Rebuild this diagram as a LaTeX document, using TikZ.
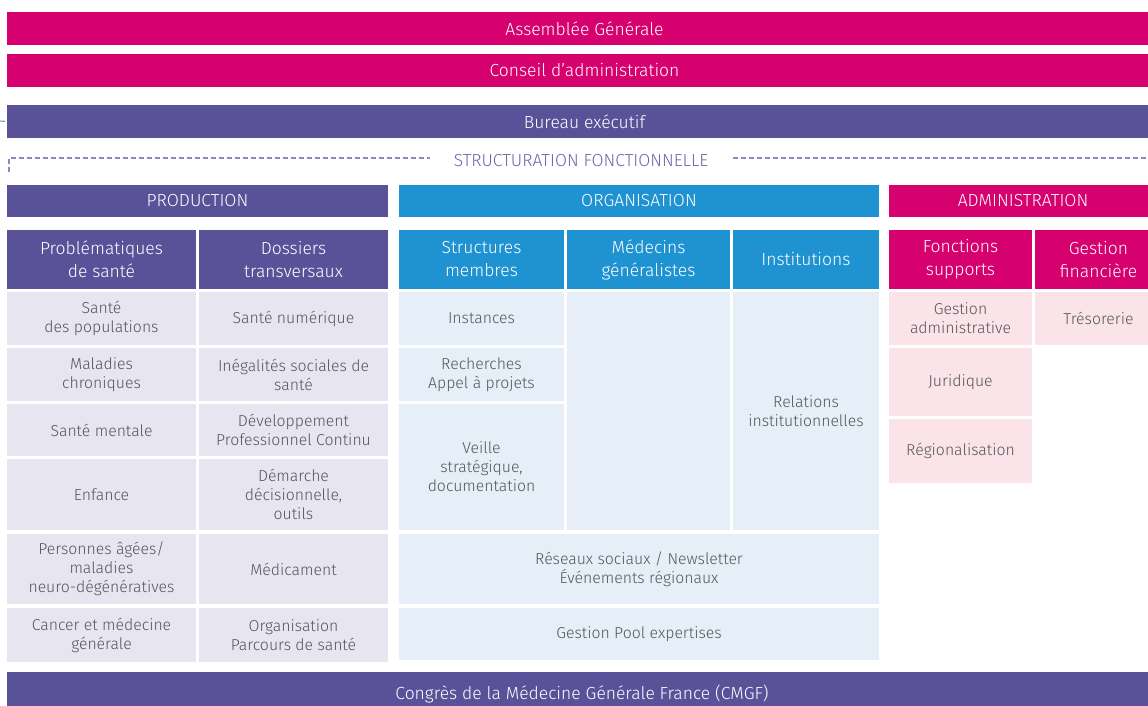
\documentclass[tikz,border=0pt]{standalone}
\usepackage{fontspec}
\setmainfont{Fira Sans Light}
\usepackage{tikz}
\usetikzlibrary{calc, positioning}

\definecolor{mgMag}{HTML}{D6006F}
\definecolor{mgPurple}{HTML}{5A5298}
\definecolor{mgBlue}{HTML}{1F92D2}
\definecolor{mgLPurple}{HTML}{E7E5F0}
\definecolor{mgLBlue}{HTML}{E6EEF8}
\definecolor{mgLPink}{HTML}{FBE3EA}
\definecolor{mgGrey}{HTML}{555555}
\definecolor{mgDash}{HTML}{8C87BF}
\definecolor{mgStruct}{HTML}{6B64A9}

\tikzset{
	box/.style={anchor=north west, inner sep=0pt, outer sep=0pt, align=center,
		font=\fontsize{15.8}{19}\selectfont},
	bar/.style={box, text=white, font=\fontsize{17.5}{20}\selectfont},
	head/.style={box, text=white, minimum height=59pt, font=\fontsize{17.5}{23}\selectfont},
	prodcell/.style={box, text=mgGrey, fill=mgLPurple, minimum width=189pt},
	orgacell/.style={box, text=mgGrey, fill=mgLBlue},
	admicell/.style={box, text=mgGrey, fill=mgLPink},
	dashline/.style={draw=mgDash, line width=1.1pt, dash pattern=on 5pt off 3pt}
}

\begin{document}
\begin{tikzpicture}[x=1pt, y=-1pt]
		\useasboundingbox (0,0) rectangle (1148,706);
		% top bars
		\foreach \y/\h/\c/\nm/\txt in {
			12/33/mgMag/ag/{Assemblée Générale},
			54/33/mgMag/ca/{Conseil d’administration},
			105/33/mgPurple/be/{Bureau exécutif},
			672/44/mgPurple/cmgf/{Congrès de la Médecine Générale France (CMGF)}
		}{
			\node[bar, fill=\c, minimum width=1155pt, minimum height=\h pt] (\nm) at (7,\y) {\txt};
		}
		\coordinate (beL) at (0,121);
		\draw[dashline] (beL) -- (be.west);
		% structuration
		\node[text=mgStruct, font=\fontsize{17.4}{20}\selectfont] (struct) at (581,161) {STRUCTURATION FONCTIONNELLE};
		\coordinate (stA) at (9,172);
		\coordinate (stB) at (9,158);
		\coordinate (stC) at (430,158);
		\coordinate (stD) at (733,158);
		\coordinate (stE) at (1148,158);
		\draw[dashline] (stA) -- (stB) -- (stC);
		\draw[dashline] (stD) -- (stE);
		% poles
		\foreach \x/\w/\c/\nm/\txt in {
			7/381/mgPurple/prod/PRODUCTION,
			399/480/mgBlue/orga/ORGANISATION,
			889/273/mgMag/admi/ADMINISTRATION
		}{
			\node[bar, fill=\c, minimum width=\w pt, minimum height=32pt] (\nm) at (\x,185) {\txt};
		}
		% column heads
		\node[head, fill=mgPurple, minimum width=189pt] (hProb) at (7,230) {Problématiques\\de santé};
		\node[head, fill=mgPurple, minimum width=189pt] (hDoss) at (199,230) {Dossiers\\transversaux};
		\node[head, fill=mgBlue, minimum width=165pt] (hStru) at (399,230) {Structures\\membres};
		\node[head, fill=mgBlue, minimum width=163pt] (hMede) at (567,230) {Médecins\\généralistes};
		\node[head, fill=mgBlue, minimum width=146pt] (hInst) at (733,230) {Institutions};
		\node[head, fill=mgMag, minimum width=143pt] (hFonc) at (889,230) {Fonctions\\supports};
		\node[head, fill=mgMag, minimum width=127pt] (hGest) at (1035,230) {Gestion\\financière};
		% production
		\node[prodcell, minimum height=53pt] (p1) at (7,292) {Santé\\des populations};
		\node[prodcell, minimum height=53pt] (p2) at (7,348) {Maladies\\chroniques};
		\node[prodcell, minimum height=52pt] (p3) at (7,404) {Santé mentale};
		\node[prodcell, minimum height=71pt] (p4) at (7,459) {Enfance};
		\node[prodcell, minimum height=70pt] (p5) at (7,534) {Personnes âgées/\\maladies\\neuro-dégénératives};
		\node[prodcell, minimum height=54pt] (p6) at (7,608) {Cancer et médecine\\générale};
		\node[prodcell, minimum height=53pt] (d1) at (199,292) {Santé numérique};
		\node[prodcell, minimum height=53pt] (d2) at (199,348) {Inégalités sociales de\\santé};
		\node[prodcell, minimum height=52pt] (d3) at (199,404) {Développement\\Professionnel Continu};
		\node[prodcell, minimum height=71pt] (d4) at (199,459) {Démarche\\décisionnelle,\\outils};
		\node[prodcell, minimum height=70pt] (d5) at (199,534) {Médicament};
		\node[prodcell, minimum height=54pt] (d6) at (199,608) {Organisation\\Parcours de santé};
		% organisation
		\node[orgacell, minimum width=165pt, minimum height=53pt] (o1) at (399,292) {Instances};
		\node[orgacell, minimum width=165pt, minimum height=53pt] (o2) at (399,348) {Recherches\\Appel à projets};
		\node[orgacell, minimum width=165pt, minimum height=126pt] (o3) at (399,404) {Veille\\stratégique,\\documentation};
		\node[orgacell, minimum width=163pt, minimum height=238pt] (o4) at (567,292) {};
		\node[orgacell, minimum width=146pt, minimum height=238pt] (o5) at (733,292) {Relations\\institutionnelles};
		\node[orgacell, minimum width=480pt, minimum height=70pt] (o6) at (399,534) {Réseaux sociaux / Newsletter\\Événements régionaux};
		\node[orgacell, minimum width=480pt, minimum height=52pt] (o7) at (399,608) {Gestion Pool expertises};
		% administration
		\node[admicell, minimum width=143pt, minimum height=53pt] (a1) at (889,292) {Gestion\\administrative};
		\node[admicell, minimum width=143pt, minimum height=68pt] (a2) at (889,348) {Juridique};
		\node[admicell, minimum width=143pt, minimum height=64pt] (a3) at (889,419) {Régionalisation};
		\node[admicell, minimum width=127pt, minimum height=53pt] (a4) at (1035,292) {Trésorerie};
	\end{tikzpicture}
\end{document}
